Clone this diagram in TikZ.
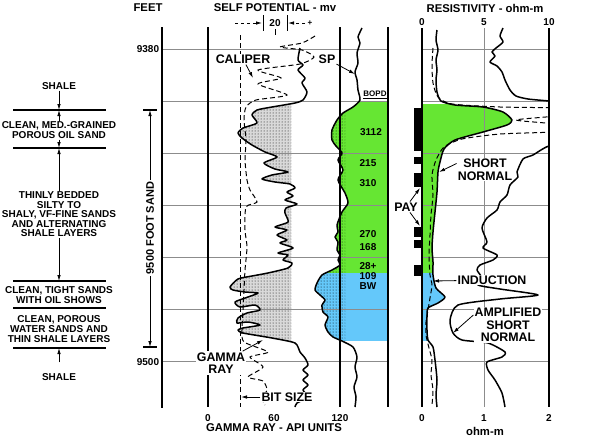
\documentclass[tikz,border=0pt]{standalone}
\usepackage{fontspec}
\setmainfont{Liberation Sans}[BoldFont={Liberation Sans Bold}]
\usetikzlibrary{arrows.meta,patterns}
\definecolor{oilgreen}{RGB}{102,230,51}
\definecolor{waterblue}{RGB}{100,200,250}

\def\grcurve{plot[smooth,tension=0.4] coordinates {(300,48) (298,60) (303,65) (298,70) (305,78) (302,83) (307,92) (303,100) (295,103) (272,107) (257,110) (252,115) (257,123) (243,128) (238,133) (242,138) (252,145) (265,152) (277,157) (264,163) (275,169) (288,172) (272,175) (262,179) (275,182) (290,184) (295,188) (287,192) (293,196) (285,200) (297,204) (286,208) (285,213) (288,222) (275,227) (287,230) (277,235) (287,240) (280,243) (293,248) (278,253) (288,255) (283,260) (292,263) (288,268) (268,273) (252,276) (238,279) (230,287) (233,290) (245,292) (258,293) (248,297) (235,302) (240,307) (255,305) (260,310) (247,313) (238,318) (237,323) (248,322) (260,325) (243,328) (238,330) (243,333) (272,338) (295,343) (300,352) (305,358) (308,365) (303,370) (308,375) (303,380) (308,385) (303,390) (308,397) (297,403) (295,407)}}
\def\spcurve{plot[smooth,tension=0.4] coordinates {(362,28) (358,37) (360,43) (357,53) (358,63) (355,72) (357,80) (358,90) (360,100) (353,107) (343,113) (337,120) (332,130) (332,140) (336,146) (342,153) (338,160) (343,170) (338,180) (345,193) (348,203) (342,212) (337,225) (338,232) (335,237) (338,242) (337,250) (340,255) (338,260) (340,265) (332,270) (322,275) (317,283) (315,290) (320,295) (325,300) (322,305) (323,312) (328,317) (325,325) (328,332) (333,337) (342,341) (353,347) (357,357) (355,367) (357,377) (354,387) (356,397) (355,407)}}
\def\calcurve{plot[smooth,tension=0.4] coordinates {(315,36) (302,43) (280,47) (302,50) (314,57) (300,64) (258,70) (281,78) (258,84) (287,95) (256,100) (246,107) (244,120) (246,140) (245,160) (247,180) (250,190) (257,202) (246,207) (245,230) (247,247) (245,270) (244,290) (243,310) (242,330) (244,342) (268,352) (250,357) (263,367) (248,377) (263,381) (267,390) (262,398) (265,405)}}
\def\sncurve{plot[smooth,tension=0.4] coordinates {(437,30) (436,40) (438,50) (436,60) (437,70) (436,80) (437,92) (441,101) (455,105) (483,107) (503,112) (512,120) (507,125) (483,132) (455,140) (444,149) (440,162) (438,172) (437,192) (435,212) (433,232) (432,248) (433,262) (433,275) (436,288) (445,297) (438,303) (428,308) (427,317) (427,330) (428,340) (433,347) (435,360) (437,380) (436,395) (437,407)}}
\def\indcurve{plot[smooth,tension=0.4] coordinates {(433,48) (432,65) (433,83) (438,97) (452,104) (500,107) (556,108) (570,112) (556,116) (516,120) (556,124) (570,128) (552,132) (500,134) (462,139) (444,147) (436,160) (432,175) (433,195) (431,215) (430,235) (429,255) (430,275) (432,285) (430,298) (428,310) (426,322) (426,335) (429,348) (432,360) (431,375) (433,390) (432,405)}}
\def\ampcurve{plot[smooth,tension=0.4] coordinates {(503,28) (500,36) (503,42) (496,48) (492,52) (495,56) (490,62) (497,66) (502,72) (505,80) (510,90) (516,96) (528,99) (549,101) (580,104) (580,142) (549,146) (533,155) (523,159) (517,172) (518,177) (510,185) (507,195) (500,202) (497,210) (487,218) (482,228) (487,242) (483,248) (497,255) (493,260) (480,265) (477,270) (482,278) (478,285) (500,289) (538,295) (500,299) (458,305) (450,320) (453,333) (462,340) (488,343) (505,352) (502,357) (487,362) (488,370) (495,380) (502,393) (505,407)}}

\begin{document}
\begin{tikzpicture}[x=1pt,y=-1pt,
  head/.style={font=\fontsize{11.3}{12}\selectfont\bfseries},
  lbl/.style={font=\fontsize{12.4}{12.6}\selectfont\bfseries,align=center,fill=white,inner sep=1pt},
  num/.style={font=\fontsize{10}{10}\selectfont\bfseries,inner sep=1pt},
  litho/.style={font=\fontsize{10}{9.5}\selectfont\bfseries,align=center,inner sep=1pt},
  gridln/.style={black!45,line width=0.9pt},
  track/.style={line width=1.3pt},
  logcurve/.style={line width=1.5pt,line join=round},
  dashcurve/.style={line width=1pt,dash pattern=on 5pt off 3pt},
  arr/.style={-{Latex[length=6pt,width=3.5pt]},line width=0.8pt},
  stipple/.style={pattern=dots,pattern color=black}]
\useasboundingbox (0,0) rectangle (600,440);
\fill[white] (0,0) rectangle (600,440);

\begin{scope}
\clip (300,102) rectangle (388,273);
\fill[oilgreen] \spcurve -- (388,407) -- (388,28) -- cycle;
\end{scope}
\begin{scope}
\clip (300,273) rectangle (388,340);
\fill[waterblue] \spcurve -- (388,407) -- (388,28) -- cycle;
\end{scope}
\begin{scope}
\clip (300,102) rectangle (345,340);
\fill[stipple] \spcurve -- (388,407) -- (388,28) -- cycle;
\end{scope}
\begin{scope}
\clip (208,98) rectangle (291,346);
\fill[black!15] \grcurve -- (400,407) -- (400,48) -- cycle;
\fill[stipple] \grcurve -- (400,407) -- (400,48) -- cycle;
\end{scope}
\begin{scope}
\clip (422,104) rectangle (549,273);
\fill[oilgreen] \sncurve -- (422,407) -- (422,30) -- cycle;
\end{scope}
\begin{scope}
\clip (422,273) rectangle (549,340);
\fill[waterblue] \sncurve -- (422,407) -- (422,30) -- cycle;
\end{scope}

\foreach \y in {49,101,...,361} {
  \draw[gridln] (162,\y) -- (388,\y);
  \draw[gridln] (422,\y) -- (549,\y);
}
\draw[gridln] (484,28) -- (484,407);
\draw[track] (162,27) -- (162,408);
\foreach \x in {208,340,388} \draw[track] (\x,27) -- (\x,407);
\foreach \x in {422,549} \draw[track] (\x,28) -- (\x,407);
\foreach \a/\b in {108/151,157/164,173/187,227/237,240/248,265/276} \fill (414,\a) rectangle (422,\b);

\draw[dashcurve] (240,35) -- (240,407);
\draw[dashcurve] \calcurve;
\draw[logcurve] \grcurve;
\draw[logcurve] \spcurve;
\draw[logcurve] \sncurve;
\begin{scope}
\clip (422,25) rectangle (549,410);
\draw[dashcurve] \indcurve;
\draw[logcurve] \ampcurve;
\end{scope}

\node[head] (feet) at (148,8) {FEET};
\node[head] (sphead) at (275,8) {SELF POTENTIAL - mv};
\node[head] (reshead) at (485,8) {RESISTIVITY - ohm-m};
\node[num] (twenty) at (275,23) {20};
\draw[line width=1pt] (263,15) -- (263,31) (287,15) -- (287,31) (275,29) -- (275,35);
\draw[arr,dashed] (235,23) -- (262,23);
\draw[arr,dashed] (305,23) -- (288,23);
\node[num,font=\fontsize{8}{8}\selectfont\bfseries] (plus) at (310,23) {+};
\node[num] (r0) at (422,22) {0};
\node[num] (r5) at (484,22) {5};
\node[num] (r10) at (549,22) {10};

\node[num] (d9380) at (148,49) {9380};
\node[num] (d9500) at (148,362) {9500};

\node[num,font=\fontsize{8}{8}\selectfont\bfseries] (bopd) at (375,95) {\underline{BOPD}};
\node[num] (q3112) at (371,132) {3112};
\node[num] (q215) at (368,163) {215};
\node[num] (q310) at (368,183) {310};
\node[num] (q270) at (368,234) {270};
\node[num] (q168) at (368,247) {168};
\node[num,align=center] (q109) at (368,276) {28+\\109\\BW};

\node[num] (g0) at (208,418) {0};
\node[num] (g60) at (274,418) {60};
\node[num] (g120) at (340,418) {120};
\node[head] (grunits) at (274,428) {GAMMA RAY - API UNITS};
\node[num] (a0) at (422,418) {0};
\node[num] (a1) at (484,418) {1};
\node[num] (a2) at (549,418) {2};
\node[head] (ohm) at (485,431) {ohm-m};

\node[lbl] (cal) at (243,59) {CALIPER};
\node[lbl] (sp) at (327,59) {SP};
\node[lbl] (gamma) at (221,363) {GAMMA\\RAY};
\node[lbl] (bit) at (287,397) {BIT SIZE};
\node[lbl] (snlbl) at (485,169.5) {SHORT\\NORMAL};
\node[lbl] (ind) at (492,280) {INDUCTION};
\node[lbl] (amp) at (508,325) {AMPLIFIED\\SHORT\\NORMAL};
\node[lbl] (pay) at (406,207) {PAY};
\coordinate (calpt) at (253,78);
\coordinate (sppt) at (355,74);
\coordinate (gammapt) at (263,340);
\coordinate (bitpt) at (241,397);
\coordinate (snpt) at (439,172);
\coordinate (indpt) at (433,281);
\coordinate (amppt) at (453,333);
\coordinate (paypt1) at (420,188);
\coordinate (paypt2) at (420,226);
\draw[arr] (cal) -- (calpt);
\draw[arr] (sp) -- (sppt);
\draw[arr] (gamma) -- (gammapt);
\draw[arr] (bit) -- (bitpt);
\draw[arr] ([yshift=6pt]snlbl.west) -- (snpt);
\draw[arr] (ind) -- (indpt);
\draw[arr] ([yshift=10pt]amp.west) -- (amppt);
\draw[arr] (pay) -- (paypt1);
\draw[arr] (pay) -- (paypt2);

\foreach \y in {110,148,281,308,348} \draw[line width=1.1pt] (13,\y) -- (106,\y);
\node[litho] (shale1) at (59,86) {SHALE};
\node[litho,font=\fontsize{10}{8.5}\selectfont\bfseries] (oilsand) at (59,130) {CLEAN, MED.-GRAINED\\POROUS OIL SAND};
\node[litho] (thinbed) at (59,214.5) {THINLY BEDDED\\SILTY TO\\SHALY, VF-FINE SANDS\\AND ALTERNATING\\SHALE LAYERS};
\node[litho] (tight) at (59,295) {CLEAN, TIGHT SANDS\\WITH OIL SHOWS};
\node[litho,font=\fontsize{10}{10}\selectfont\bfseries] (water) at (59,329) {CLEAN, POROUS\\WATER SANDS AND\\THIN SHALE LAYERS};
\node[litho] (shale2) at (59,377) {SHALE};
\coordinate (oiltop) at (59,110);
\coordinate (oilbase) at (59,148);
\coordinate (tighttop) at (59,281);
\coordinate (waterbase) at (59,348);
\draw[arr] (shale1) -- (oiltop);
\draw[arr] (oilsand) -- (oiltop);
\draw[arr] (oilsand) -- (oilbase);
\draw[arr] (thinbed) -- (oilbase);
\draw[arr] (thinbed) -- (tighttop);
\draw[arr,shorten <=10pt] (shale2) -- (waterbase);

\node[head,font=\fontsize{11}{11}\selectfont\bfseries,rotate=90,fill=white,inner sep=2pt] (footsand) at (150,228) {9500 FOOT SAND};
\coordinate (sandtop) at (150,110);
\coordinate (sandbase) at (150,347);
\draw[line width=1.1pt] (143,110) -- (157,110) (143,347) -- (157,347);
\draw[arr] (footsand) -- (sandtop);
\draw[arr] (footsand) -- (sandbase);
\end{tikzpicture}
\end{document}
